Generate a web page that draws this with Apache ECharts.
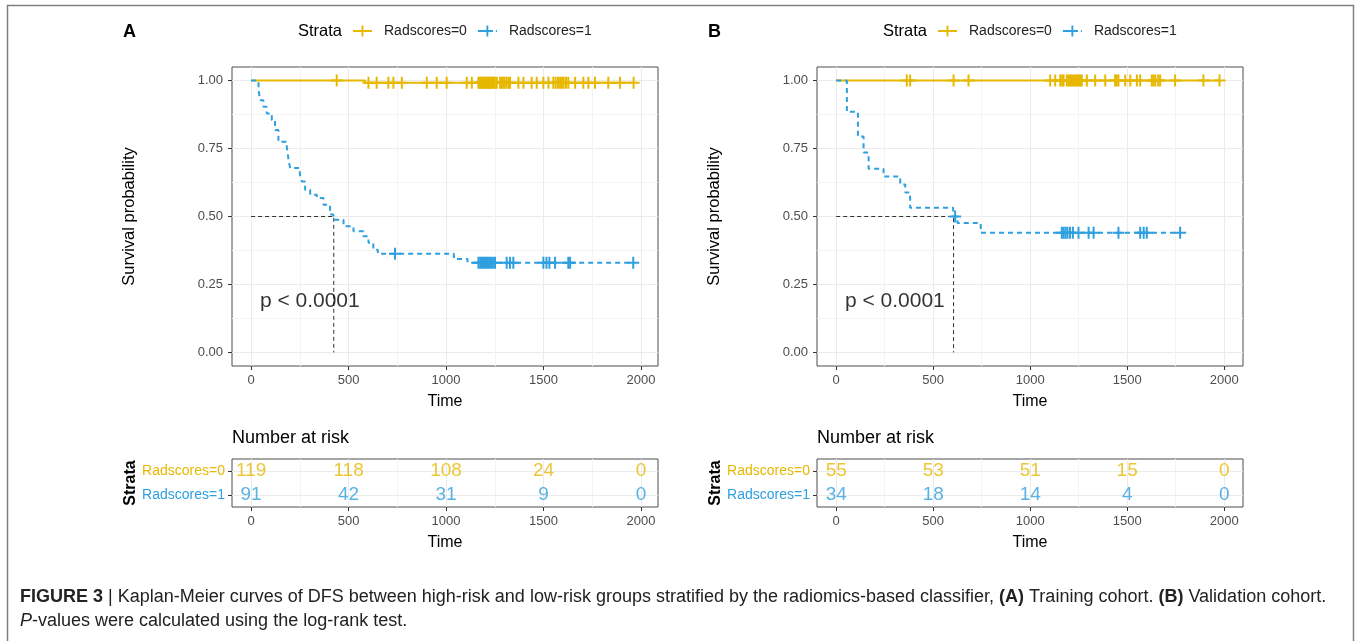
<!DOCTYPE html>
<html><head><meta charset="utf-8">
<script src="https://cdn.jsdelivr.net/npm/echarts@6/dist/echarts.min.js"></script>
<style>html,body{margin:0;padding:0;background:#fff}#main{width:1357px;height:641px}</style>
</head><body><div id="main"></div>
<script>
// ---------- data ----------
const strata = ['Radscores=0', 'Radscores=1'];
const timeTicks = [0, 500, 1000, 1500, 2000];
const timeMinorTicks = [250, 750, 1250, 1750];
const survTicks = [0, 0.25, 0.5, 0.75, 1];
const survMinorTicks = [0.125, 0.375, 0.625, 0.875];
const riskTimes = [0, 500, 1000, 1500, 2000];
const pText = 'p < 0.0001';

// Panel A (training cohort): KM steps [time, survival from that time on]
const kmA0 = [[0, 1], [585, 0.9916], [1962, 0.9916]];
const kmA1 = [[0, 1], [38, 0.965], [46, 0.928], [63, 0.904], [80, 0.879], [106, 0.855], [123, 0.818], [140, 0.775],
  [183, 0.757], [191, 0.714], [200, 0.678], [250, 0.655], [260, 0.629], [277, 0.598], [303, 0.58], [337, 0.568],
  [371, 0.543], [405, 0.507], [422, 0.488], [474, 0.464], [525, 0.446], [576, 0.427], [602, 0.403], [627, 0.378],
  [650, 0.363], [1040, 0.344], [1110, 0.33], [1960, 0.33]];
const censA0 = [439, 602, 644, 704, 730, 773, 901, 952, 1003, 1106, 1132, 1166, 1172, 1178, 1184, 1190, 1196, 1202,
  1208, 1214, 1220, 1226, 1232, 1238, 1244, 1250, 1260, 1277, 1285, 1293, 1300, 1310, 1320, 1328, 1371, 1397, 1439,
  1465, 1499, 1525, 1550, 1562, 1574, 1585, 1594, 1603, 1615, 1627, 1662, 1704, 1730, 1764, 1832, 1892, 1962];
const censA1 = [738, 1166, 1175, 1184, 1192, 1200, 1210, 1220, 1230, 1240, 1251, 1311, 1328, 1345, 1499, 1515, 1530,
  1559, 1627, 1636, 1960];
const riskA0 = [119, 118, 108, 24, 0];
const riskA1 = [91, 42, 31, 9, 0];
const medianA = 424;

// Panel B (validation cohort)
const kmB0 = [[0, 1], [1976, 1]];
const kmB1 = [[0, 1], [55, 0.885], [112, 0.794], [141, 0.735], [167, 0.676], [244, 0.647], [330, 0.618], [356, 0.588],
  [381, 0.532], [603, 0.5], [625, 0.476], [745, 0.44], [1773, 0.44]];
const censB0 = [364, 381, 605, 682, 1103, 1129, 1155, 1165, 1172, 1189, 1197, 1205, 1212, 1220, 1228, 1236, 1244,
  1252, 1260, 1266, 1292, 1335, 1387, 1438, 1446, 1455, 1490, 1516, 1550, 1567, 1627, 1636, 1645, 1660, 1670, 1747,
  1893, 1976];
const censB1 = [613, 1163, 1172, 1182, 1192, 1205, 1220, 1249, 1301, 1327, 1455, 1567, 1585, 1601, 1773];
const riskB0 = [55, 53, 51, 15, 0];
const riskB1 = [34, 18, 14, 4, 0];
const medianB = 605;

// ---------- styling ----------
const COL = ['#E7B800', '#2E9FDF'];
const FONT = '"Liberation Sans", Arial, sans-serif';
const PLUS = 'path://M5,0H7V5H12V7H7V12H5V7H0V5H5Z';
const GRID_MAJOR = '#EBEBEB', GRID_MINOR = '#F4F4F4';

function survAt(steps, t) {
  let s = steps[0][1];
  for (const [tt, v] of steps) { if (tt <= t) s = v; else break; }
  return s;
}

const panels = [
  { km: [kmA0, kmA1], cens: [censA0, censA1], risk: [riskA0, riskA1], median: medianA,
    left: 232, xmin: -98, xmax: 2087, label: 'A', pCoord: [45, 0.19] },
  { km: [kmB0, kmB1], cens: [censB0, censB1], risk: [riskB0, riskB1], median: medianB,
    left: 817, xmin: -99, xmax: 2097, label: 'B', pCoord: [45, 0.19] }
];

const grid = [], xAxis = [], yAxis = [], series = [], title = [], legend = [];
const W = 426;
const noLine = { show: false, onZero: false };

panels.forEach((p, pi) => {
  const gPlot = grid.length;
  grid.push({ left: p.left, top: 67, width: W, height: 299, show: true, borderColor: '#4d4d4d', borderWidth: 1 });
  const gTab = grid.length;
  grid.push({ left: p.left, top: 459, width: W, height: 48, show: true, borderColor: '#4d4d4d', borderWidth: 1 });

  const timeAxis = g => ({
    gridIndex: g, type: 'value', min: p.xmin, max: p.xmax,
    axisLine: noLine,
    axisTick: { show: true, length: 4, customValues: timeTicks, lineStyle: { color: '#333' } },
    axisLabel: { customValues: timeTicks, color: '#4D4D4D', fontSize: 13, margin: 8, fontFamily: FONT,
      formatter: v => String(v) },
    splitLine: { show: true, lineStyle: { color: GRID_MAJOR } },
    name: 'Time', nameLocation: 'middle', nameGap: 28,
    nameTextStyle: { fontSize: 16, color: '#000', fontFamily: FONT }
  });
  const minorTime = g => ({
    gridIndex: g, type: 'value', min: p.xmin, max: p.xmax, position: 'top',
    axisLine: noLine, axisLabel: { show: false },
    axisTick: { show: false, customValues: timeMinorTicks },
    splitLine: { show: true, lineStyle: { color: GRID_MINOR } }
  });

  const xMainPlot = xAxis.length; xAxis.push(timeAxis(gPlot));
  xAxis.push(minorTime(gPlot));
  const xMainTab = xAxis.length; xAxis.push(timeAxis(gTab));
  xAxis.push(minorTime(gTab));

  const yMainPlot = yAxis.length;
  yAxis.push({
    gridIndex: gPlot, type: 'value', min: -0.05, max: 1.05,
    axisLine: noLine,
    axisTick: { show: true, length: 4, customValues: survTicks, lineStyle: { color: '#333' } },
    axisLabel: { customValues: survTicks, color: '#4D4D4D', fontSize: 13, margin: 9, fontFamily: FONT,
      formatter: v => v.toFixed(2) },
    splitLine: { show: true, lineStyle: { color: GRID_MAJOR } },
    name: 'Survival probability', nameLocation: 'middle', nameGap: 94,
    nameTextStyle: { fontSize: 16.5, color: '#000', fontFamily: FONT }
  });
  yAxis.push({
    gridIndex: gPlot, type: 'value', min: -0.05, max: 1.05, position: 'right',
    axisLine: noLine, axisLabel: { show: false },
    axisTick: { show: false, customValues: survMinorTicks },
    splitLine: { show: true, lineStyle: { color: GRID_MINOR } }
  });
  const yTab = yAxis.length;
  yAxis.push({
    gridIndex: gTab, type: 'category', data: [strata[1], strata[0]],
    axisLine: noLine,
    axisTick: { show: true, alignWithLabel: true, length: 4, lineStyle: { color: '#333' } },
    axisLabel: { margin: 7, fontFamily: FONT,
      formatter: v => '{c' + strata.indexOf(v) + '|' + v + '}',
      rich: { c0: { color: COL[0], fontSize: 14, fontFamily: FONT }, c1: { color: COL[1], fontSize: 14, fontFamily: FONT } } },
    splitLine: { show: false },
    name: 'Strata', nameLocation: 'middle', nameGap: 88,
    nameTextStyle: { fontSize: 16, fontWeight: 'bold', color: '#000', fontFamily: FONT }
  });

  // median lines
  series.push({
    type: 'line', name: 'median' + p.label, xAxisIndex: xMainPlot, yAxisIndex: yMainPlot,
    data: [[0, 0.5], [p.median, 0.5], [p.median, 0]], showSymbol: false, silent: true, z: 2,
    lineStyle: { color: '#333', width: 1, type: [4, 3] }
  });

  // KM curves and censor marks
  [0, 1].forEach(k => {
    series.push({
      type: 'line', name: strata[k], xAxisIndex: xMainPlot, yAxisIndex: yMainPlot,
      data: p.km[k], step: 'end', showSymbol: false, symbol: PLUS, silent: true, z: 3 + k,
      color: COL[k], itemStyle: { color: COL[k] },
      lineStyle: { color: COL[k], width: 2, type: k === 0 ? 'solid' : [5, 4] }
    });
    series.push({
      type: 'scatter', name: 'censor' + p.label + k, xAxisIndex: xMainPlot, yAxisIndex: yMainPlot,
      data: p.cens[k].map(t => [t, survAt(p.km[k], t)]), symbol: PLUS, symbolSize: 12, silent: true, z: 5 + k,
      itemStyle: { color: COL[k], opacity: 1 }
    });
    // risk table numbers
    series.push({
      type: 'scatter', name: 'risk' + p.label + k, xAxisIndex: xMainTab, yAxisIndex: yTab,
      data: riskTimes.map((t, i) => [t, strata[k], p.risk[k][i]]), symbolSize: 0, silent: true, z: 5,
      label: { show: true, position: 'inside', formatter: o => String(o.value[2]), color: COL[k], fontSize: 19, fontFamily: FONT },
      markLine: k === 0 ? { silent: true, symbol: 'none', label: { show: false }, z: 1,
        lineStyle: { color: GRID_MAJOR, type: 'solid', width: 1 },
        data: [{ yAxis: 0 }, { yAxis: 1 }] } : undefined
    });
  });

  // p-value annotation
  series.push({
    type: 'scatter', name: 'pval' + p.label, xAxisIndex: xMainPlot, yAxisIndex: yMainPlot,
    data: [p.pCoord], symbolSize: 0, silent: true, z: 6,
    label: { show: true, position: 'right', distance: 0, formatter: pText, fontSize: 21, color: '#000', fontFamily: FONT }
  });

  const off = p.left - 232;
  title.push({ text: p.label, left: 123 + off, top: 23, padding: 0,
    textStyle: { fontSize: 18, fontWeight: 'bold', color: '#000', fontFamily: FONT } });
  title.push({ text: 'Strata', left: 298 + off, top: 23, padding: 0,
    textStyle: { fontSize: 16.5, fontWeight: 'normal', color: '#000', fontFamily: FONT } });
  title.push({ text: 'Number at risk', left: p.left, top: 429, padding: 0,
    textStyle: { fontSize: 18, fontWeight: 'normal', color: '#000', fontFamily: FONT } });
  legend.push({
    left: 352 + off, top: 24, itemWidth: 19, itemHeight: 14, itemGap: 10, selectedMode: false, padding: 0,
    data: strata, textStyle: { fontSize: 14, color: '#222', fontFamily: FONT, padding: [0, 0, 0, 7] }
  });
});

title.push({
  left: 20, top: 585, padding: 0,
  text: '{b|FIGURE 3} | Kaplan-Meier curves of DFS between high-risk and low-risk groups stratified by the radiomics-based classifier, {b|(A)} Training cohort. {b|(B)} Validation cohort.\n{i|P}-values were calculated using the log-rank test.',
  textStyle: { fontSize: 18, fontWeight: 'normal', color: '#222', fontFamily: FONT, lineHeight: 24,
    rich: { b: { fontWeight: 'bold', fontSize: 18, color: '#222', fontFamily: FONT, lineHeight: 24 },
            i: { fontStyle: 'italic', fontSize: 18, color: '#222', fontFamily: FONT, lineHeight: 24 } } }
});

const chart = echarts.init(document.getElementById('main'), null, { renderer: 'canvas' });
chart.setOption({
  animation: false,
  backgroundColor: '#fff',
  textStyle: { fontFamily: FONT },
  title, legend, grid, xAxis, yAxis, series,
  graphic: [{ type: 'rect', silent: true, z: -1,
    shape: { x: 7.5, y: 5.5, width: 1346, height: 700 },
    style: { fill: 'none', stroke: '#808080', lineWidth: 1.5 } }]
});
</script></body></html>
